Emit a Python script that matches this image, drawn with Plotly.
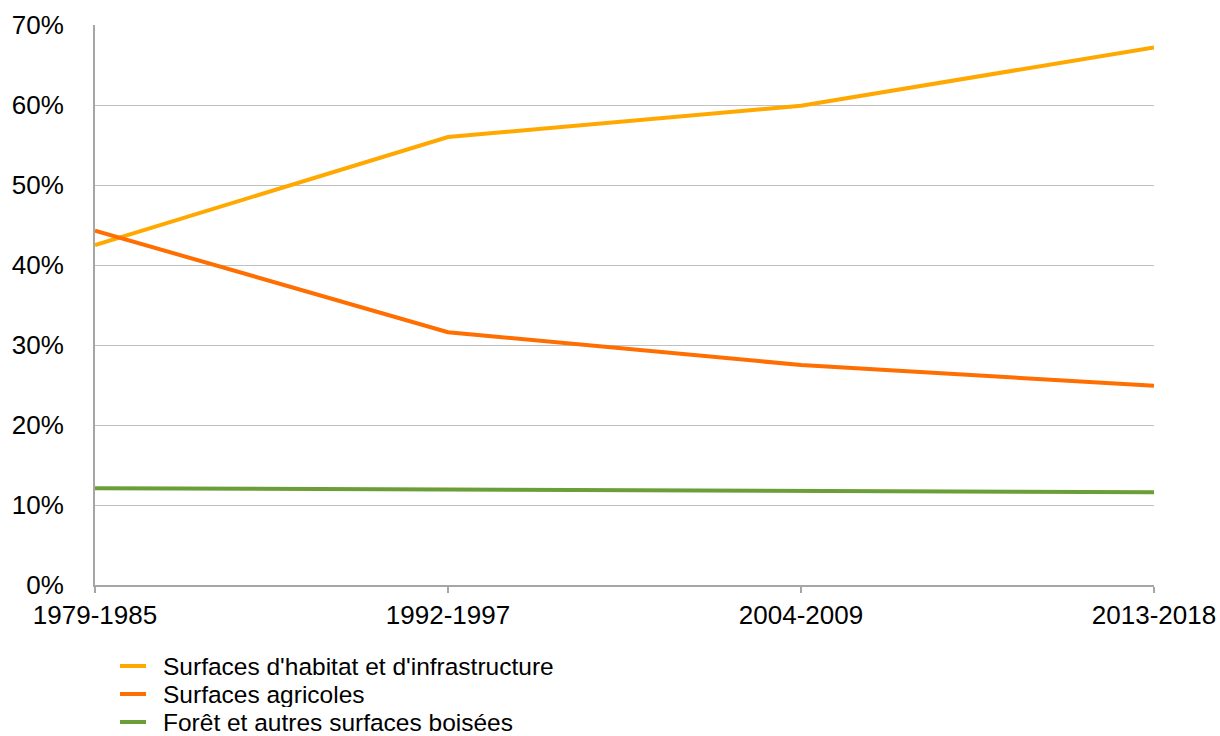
import plotly.graph_objects as go

periods = ["1979-1985", "1992-1997", "2004-2009", "2013-2018"]
habitat = [42.5, 56.0, 59.9, 67.2]
agricoles = [44.3, 31.6, 27.5, 24.9]
foret = [12.1, 11.9, 11.75, 11.6]

series_names = ["Surfaces d'habitat et d'infrastructure", "Surfaces agricoles",
                "Forêt et autres surfaces boisées"]
series_values = [habitat, agricoles, foret]
series_colors = ["#FFA800", "#FF6E00", "#6B9E36"]

y_ticks = [0, 10, 20, 30, 40, 50, 60, 70]
y_ticktext = [f"{v}%" for v in y_ticks]

FONT = "Liberation Sans, Arial, sans-serif"
W, H = 1220, 736
ML, MR, MT, MB = 95, 66, 25, 151
PW, PH = W - ML - MR, H - MT - MB

fig = go.Figure()
for name, vals, col in zip(series_names, series_values, series_colors):
    fig.add_trace(go.Scatter(x=periods, y=vals, mode="lines", name=name,
                             line=dict(color=col, width=4), showlegend=False))

# custom legend (compact rows like the reference)
def px_x(p):
    return (p - ML) / PW

def px_y(p):
    return (H - MB - p) / PH

row_y = [666, 694, 722]
for name, col, ry in zip(series_names, series_colors, row_y):
    fig.add_shape(type="line", xref="paper", yref="paper",
                  x0=px_x(120), x1=px_x(146), y0=px_y(ry), y1=px_y(ry),
                  line=dict(color=col, width=4))
    fig.add_annotation(xref="paper", yref="paper", x=px_x(161), y=px_y(ry),
                       xanchor="left", yanchor="middle", text=name, showarrow=False,
                       height=26, valign="middle",
                       font=dict(family=FONT, size=24.5, color="#000000"))

fig.update_layout(
    width=W, height=H,
    margin=dict(l=ML, r=MR, t=MT, b=MB, pad=0, autoexpand=False),
    paper_bgcolor="white", plot_bgcolor="white",
    font=dict(family=FONT, size=26, color="#000000"),
    showlegend=False,
)
fig.update_xaxes(type="category", range=[0, 3], showgrid=False, automargin=False,
                 showline=True, linecolor="#A6A6A6", linewidth=2,
                 ticks="outside", ticklen=6, tickcolor="#A6A6A6", tickwidth=2,
                 tickfont=dict(family=FONT, size=26, color="#000000"),
                 zeroline=False, fixedrange=True)
fig.update_yaxes(range=[0, 70], tickvals=y_ticks, ticktext=y_ticktext, automargin=False,
                 showgrid=True, gridcolor="#C0C0C0", gridwidth=1,
                 showline=True, linecolor="#A6A6A6", linewidth=2,
                 ticks="", ticklabelstandoff=24,
                 tickfont=dict(family=FONT, size=26, color="#000000"),
                 zeroline=False, fixedrange=True)

fig.write_html("out.html")
